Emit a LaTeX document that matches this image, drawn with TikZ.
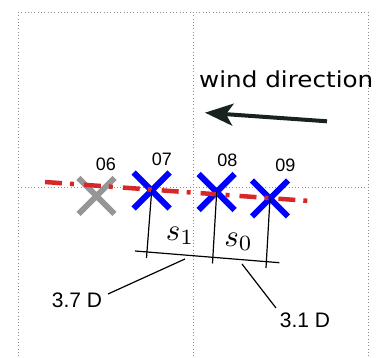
\documentclass[tikz,border=0pt]{standalone}
\usepackage{fontspec}
\setmainfont{Liberation Sans}
\newfontfamily\dejavu{DejaVu Sans}
\usetikzlibrary{arrows.meta,shapes.misc}
\definecolor{gridc}{RGB}{140,140,140}
\definecolor{redc}{RGB}{214,40,40}
\definecolor{arrc}{RGB}{24,34,32}
\definecolor{grayx}{RGB}{150,150,150}
\begin{document}
\begin{tikzpicture}[x=1pt,y=-1pt,
  gridline/.style={gridc, line width=0.9pt, dash pattern=on 0.9pt off 2.4pt},
  turbine/.style={cross out, draw, minimum size=36pt, inner sep=0pt, outer sep=0pt, line width=6pt},
  idlabel/.style={font=\fontsize{18}{20}\selectfont, inner sep=0pt},
  distlabel/.style={font=\fontsize{21}{24}\selectfont, inner sep=0pt},
  redline/.style={redc, line width=4.5pt, dash pattern=on 17pt off 8pt on 4pt off 10pt},
  thinline/.style={black, line width=1.2pt},
  windarrow/.style={arrc, line width=4pt, -{Stealth[length=28pt,width=22pt,inset=7pt]}}]
\useasboundingbox (0,0) rectangle (376,358);
% grid
\draw[gridline] (18,12) -- (368,12);
\draw[gridline] (18,187) -- (368,187);
\draw[gridline] (18,12) -- (18,358);
\draw[gridline] (193,12) -- (193,358);
\draw[gridline] (368,12) -- (368,358);
% wind
\node[anchor=base west, inner sep=0pt, font=\dejavu\fontsize{22}{24}\selectfont] (wind) at (199,88) {\scalebox{1.12}[1]{wind direction}};
\coordinate (a1) at (327,121.3);
\coordinate (a2) at (205,112.7);
\draw[windarrow] (a1) -- (a2);
% turbines
\node[turbine, draw=grayx] (t6) at (96.5,196) {};
\node[turbine, draw=blue] (t7) at (151.7,190.5) {};
\node[turbine, draw=blue] (t8) at (216.7,192) {};
\node[turbine, draw=blue] (t9) at (270,198.5) {};
\node[idlabel] (l6) at (106,164.5) {06};
\node[idlabel] (l7) at (162,159.5) {07};
\node[idlabel] (l8) at (227.5,160.5) {08};
\node[idlabel] (l9) at (285.5,165.5) {09};
% red line
\coordinate (r1) at (45,182);
\coordinate (r2) at (310,201);
\draw[redline] (r1) -- (r2);
% perpendiculars
\coordinate (p7) at (146.5,258);
\coordinate (p8) at (212.5,263.5);
\coordinate (p9) at (266,268);
\draw[thinline] (t7.center) -- (p7);
\draw[thinline] (t8.center) -- (p8);
\draw[thinline] (t9.center) -- (p9);
\coordinate (b1) at (135,251);
\coordinate (b2) at (279.3,262.7);
\draw[thinline] (b1) -- (b2);
% spacing labels
\node[inner sep=0pt] (s1) at (180,236) {\scalebox{3.1}{$s_1$}};
\node[inner sep=0pt] (s0) at (238.5,242) {\scalebox{3.1}{$s_0$}};
% distances
\node[distlabel] (d37) at (77,300) {3.7 D};
\node[distlabel] (d31) at (305,320) {3.1 D};
\coordinate (q1) at (185,259);
\coordinate (q2) at (108,294);
\coordinate (q3) at (242,264);
\coordinate (q4) at (276,308);
\draw[thinline] (q1) -- (q2);
\draw[thinline] (q3) -- (q4);
\end{tikzpicture}
\end{document}
